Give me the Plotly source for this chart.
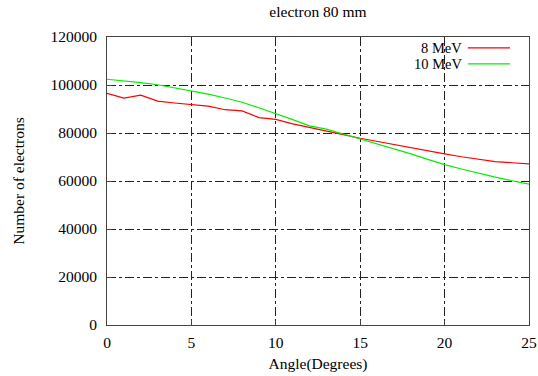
import plotly.graph_objects as go

angles = list(range(0, 26))
mev8 = [96500, 94500, 95800, 93300, 92500, 92000, 91200, 89700, 89200, 86400,
        85700, 83800, 82400, 80900, 79300, 77800, 76500, 75100, 73600, 72400,
        71300, 70100, 69100, 68100, 67600, 67100]
mev10 = [102400, 101800, 101000, 100100, 98900, 97600, 96200, 94600, 92800, 90500,
         88200, 85600, 83000, 81600, 79600, 77600, 75500, 73400, 71300, 69000,
         66800, 65000, 63200, 61600, 60100, 58700]
series_names = ["8 MeV", "10 MeV"]
series_colors = ["#ff0000", "#00ee00"]
x_ticks = [0, 5, 10, 15, 20, 25]
y_ticks = [0, 20000, 40000, 60000, 80000, 100000, 120000]

font = "Liberation Serif"
fs = 15.5

fig = go.Figure()
for name, vals, col in zip(series_names, [mev8, mev10], series_colors):
    fig.add_trace(go.Scatter(x=angles, y=vals, mode="lines", name=name,
                             line=dict(color=col, width=1.2), showlegend=False))

# gnuplot-style legend: right-aligned text followed by line sample
leg_y = [0.962, 0.907]
for name, col, ly in zip(series_names, series_colors, leg_y):
    fig.add_annotation(xref="paper", yref="paper", x=0.843, y=ly, text=name,
                       showarrow=False, xanchor="right", yanchor="middle",
                       borderpad=0,
                       font=dict(family=font, size=14.5, color="black"))
    fig.add_shape(type="line", xref="paper", yref="paper", x0=0.855, x1=0.955,
                  y0=ly, y1=ly, line=dict(color=col, width=1.2))

axis_common = dict(showline=True, linecolor="#444", linewidth=1, mirror=True,
                   ticks="inside", ticklen=5, tickcolor="#444", automargin=False,
                   showgrid=True, gridcolor="#222", gridwidth=1, griddash="dashdot",
                   zeroline=False, tickfont=dict(family=font, size=fs, color="black"))

fig.update_layout(
    width=538, height=376,
    margin=dict(l=107, r=9, t=37, b=51),
    paper_bgcolor="white", plot_bgcolor="white",
    font=dict(family=font, size=fs, color="black"),
    title=dict(text="electron 80 mm", x=0.591, xanchor="center", y=0.968, yanchor="middle",
               font=dict(family=font, size=fs, color="black")),
    xaxis=dict(range=[0, 25], tickvals=x_ticks, ticktext=[str(v) for v in x_ticks],
               ticklabelstandoff=3,
               title=dict(text="Angle(Degrees)", standoff=8,
                          font=dict(family=font, size=fs, color="black")),
               **axis_common),
    yaxis=dict(range=[0, 120000], tickvals=y_ticks, ticktext=[str(v) for v in y_ticks],
               ticklabelstandoff=6,
               title=dict(text="Number of electrons", standoff=21,
                          font=dict(family=font, size=fs, color="black")),
               **axis_common),
)

fig.write_html("out.html")
